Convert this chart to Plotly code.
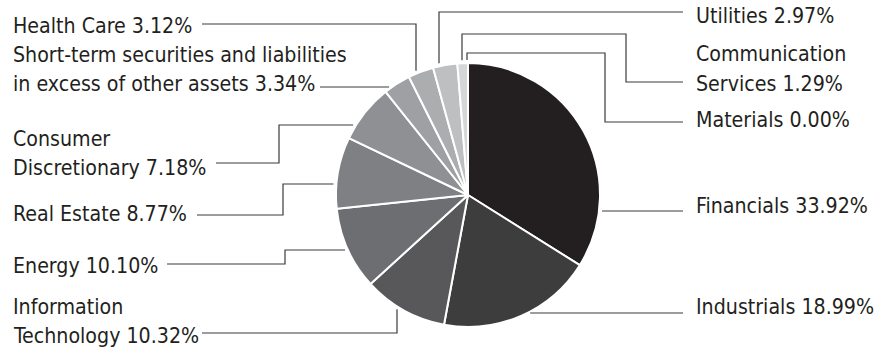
import math
import plotly.graph_objects as go

W, H = 874, 347

# ---- data ----
sectors = ["Financials", "Industrials", "Information Technology", "Energy",
           "Real Estate", "Consumer Discretionary",
           "Short-term securities and liabilities in excess of other assets",
           "Health Care", "Utilities", "Communication Services", "Materials"]
weights = [33.92, 18.99, 10.32, 10.10, 8.77, 7.18, 3.34, 3.12, 2.97, 1.29, 0.00]
label_lines = [
    ["Financials 33.92%"],
    ["Industrials 18.99%"],
    ["Information", "Technology 10.32%"],
    ["Energy 10.10%"],
    ["Real Estate 8.77%"],
    ["Consumer", "Discretionary 7.18%"],
    ["Short-term securities and liabilities", "in excess of other assets 3.34%"],
    ["Health Care 3.12%"],
    ["Utilities 2.97%"],
    ["Communication", "Services 1.29%"],
    ["Materials 0.00%"],
]
colors = ["#231f20", "#3d3d3e", "#58585a", "#6d6e71", "#7f8083", "#8f9093",
          "#9fa0a3", "#abadaf", "#bebfc1", "#d5d6d7", "#e6e7e8"]

# ---- layout (pixels) ----
CX, CY, R = 468, 195, 132
GAP = 3
FONT = "DejaVu Sans Condensed, Liberation Sans Narrow, Arial Narrow, sans-serif"
FS = 21.2
TXT = "#231f20"
LINE = "#3a3a3a"

# label layout: side, text x, baselines of each line
label_pos = [
    ("right", 695, [214]),
    ("right", 695, [315]),
    ("left", 12, [315, 344]),
    ("left", 12, [274]),
    ("left", 12, [222]),
    ("left", 12, [147, 176]),
    ("left", 12, [63, 92]),
    ("left", 12, [34]),
    ("right", 695, [24]),
    ("right", 695, [62, 92]),
    ("right", 695, [128]),
]
# leader paths: ('h', y, ...) starts horizontally from pie edge; ('v'/'vb', x, ...) vertically
leaders = [
    ("h", 211, [(683, 211)]),
    ("h", 313, [(683, 313)]),
    ("vb", 397, [(397, 333), (202, 333)]),
    ("h", 250, [(285, 250), (285, 264), (167, 264)]),
    ("h", 184, [(283, 184), (283, 215), (197, 215)]),
    ("h", 125, [(279, 125), (279, 163), (216, 163)]),
    ("h", 87, [(320, 87)]),
    ("v", 416, [(416, 24), (202, 24)]),
    ("v", 439, [(439, 12), (683, 12)]),
    ("v", 462, [(462, 34), (626, 34), (626, 82), (683, 82)]),
    ("v", 467, [(467, 53), (605, 53), (605, 122), (683, 122)]),
]


def px(x):
    return x / W


def py(y):
    return 1 - y / H


fig = go.Figure()
fig.add_trace(go.Pie(
    labels=sectors, values=weights, sort=False, direction="clockwise", rotation=0,
    marker=dict(colors=colors, line=dict(color="white", width=2)),
    textinfo="none", hoverinfo="label+percent", showlegend=False,
    domain=dict(x=[px(CX - R), px(CX + R)], y=[py(CY + R), py(CY - R)]),
))

shapes = []
for kind, c, pts in leaders:
    if kind == "h":
        target_x = pts[0][0]
        dx = math.sqrt(max(R * R - (c - CY) ** 2, 0))
        sx = CX + dx + GAP if target_x > CX else CX - dx - GAP
        start = (sx, c)
    else:
        dy = math.sqrt(max(R * R - (c - CX) ** 2, 0))
        sy = CY + dy + GAP if kind == "vb" else CY - dy - GAP
        start = (c, sy)
    path = [start] + pts
    d = "M " + " L ".join(f"{px(x):.5f},{py(y):.5f}" for x, y in path)
    shapes.append(dict(type="path", path=d, xref="paper", yref="paper",
                       line=dict(color=LINE, width=1.2)))

annotations = []
for lines, (side, tx, bases) in zip(label_lines, label_pos):
    for t, b in zip(lines, bases):
        annotations.append(dict(
            text=t, x=px(tx), y=py(b + 5.0), xref="paper", yref="paper",
            xanchor="left", yanchor="bottom", showarrow=False, borderpad=0,
            font=dict(family=FONT, size=FS, color=TXT)))

fig.update_layout(
    width=W, height=H, margin=dict(l=0, r=0, t=0, b=0),
    paper_bgcolor="white", plot_bgcolor="white",
    shapes=shapes, annotations=annotations,
)
fig.write_html("out.html", config={"displayModeBar": False},
               post_script="document.body.style.margin='0';")
